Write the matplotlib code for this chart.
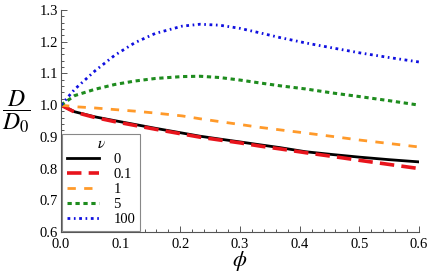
import numpy as np
import matplotlib.pyplot as plt
from matplotlib.ticker import MultipleLocator

plt.rcParams['font.family'] = 'Liberation Serif'
plt.rcParams['mathtext.fontset'] = 'stix'

# volume fraction
phi = [0.0, 0.023, 0.057, 0.09, 0.124, 0.158, 0.203, 0.233, 0.266, 0.3,
       0.333, 0.367, 0.41, 0.456, 0.5, 0.55, 0.6]

# D/D0, one list per nu
d_nu0 = [1.0, 0.979, 0.963, 0.951, 0.939, 0.927, 0.912, 0.902, 0.893, 0.884,
         0.875, 0.866, 0.853, 0.844, 0.836, 0.828, 0.821]
d_nu01 = [1.0, 0.978, 0.961, 0.948, 0.936, 0.924, 0.909, 0.899, 0.890, 0.881,
          0.871, 0.862, 0.850, 0.838, 0.826, 0.813, 0.800]
d_nu1 = [1.0, 0.995, 0.991, 0.986, 0.981, 0.975, 0.966, 0.957, 0.948, 0.939,
         0.930, 0.922, 0.912, 0.901, 0.890, 0.879, 0.868]
d_nu5 = [1.0, 1.030, 1.050, 1.065, 1.076, 1.084, 1.090, 1.091, 1.087, 1.079,
         1.070, 1.061, 1.051, 1.038, 1.027, 1.014, 1.0]
d_nu100 = [1.0, 1.050, 1.108, 1.157, 1.197, 1.226, 1.249, 1.255, 1.252, 1.242,
           1.228, 1.213, 1.196, 1.180, 1.165, 1.150, 1.136]

labels = ['0', '0.1', '1', '5', '100']

fig = plt.figure(figsize=(4.45, 2.77), dpi=100)
ax = fig.add_axes([0.137, 0.1625, 0.8046, 0.8015])

ax.plot(phi, d_nu0, color='black', lw=2.0, label=labels[0])
ax.plot(phi, d_nu01, color='#e8141c', lw=2.6, dashes=(4, 2), label=labels[1])
ax.plot(phi, d_nu1, color='#ff9a2a', lw=2.0, dashes=(3, 3), label=labels[2])
ax.plot(phi, d_nu5, color='#1e8c1e', lw=2.2, dashes=(1.4, 1.2), label=labels[3])
ax.plot(phi, d_nu100, color='#1010e0', lw=2.0, dashes=(1.0, 1.3, 0.6, 1.3),
        label=labels[4])

ax.set_xlim(0, 0.6)
ax.set_ylim(0.6, 1.3)
ax.xaxis.set_major_locator(MultipleLocator(0.1))
ax.xaxis.set_minor_locator(MultipleLocator(0.02))
ax.yaxis.set_major_locator(MultipleLocator(0.1))
ax.yaxis.set_minor_locator(MultipleLocator(0.02))
ax.xaxis.set_major_formatter(plt.FuncFormatter(lambda v, p: f'{v:.1f}'))
ax.yaxis.set_major_formatter(plt.FuncFormatter(lambda v, p: f'{v:.1f}'))

ax.tick_params(which='both', direction='in', color='#555555', labelsize=10.5,
               width=0.7)
ax.tick_params(which='major', length=4)
ax.tick_params(which='minor', length=2)
ax.tick_params(axis='x', pad=4)
ax.tick_params(axis='y', pad=2)
for s in ['top', 'right']:
    ax.spines[s].set_visible(False)
for s in ['left', 'bottom']:
    ax.spines[s].set_color('#555555')
    ax.spines[s].set_linewidth(0.8)

ax.set_xlabel(r'$\phi$', fontsize=16, labelpad=-1)
ax.set_ylabel(r'$\dfrac{D}{D_0}$', fontsize=17, rotation=0, labelpad=14,
              va='center')
ax.yaxis.set_label_coords(-0.125, 0.54)

leg = ax.legend(title=r'$\nu$', loc='lower left', bbox_to_anchor=(0.0, 0.0),
                borderaxespad=0.1, fontsize=10.5, title_fontsize=11,
                fancybox=False, edgecolor='#888888', framealpha=1,
                handlelength=2.2, handletextpad=1.0, labelspacing=0.12,
                borderpad=0.3)
leg.get_frame().set_linewidth(0.8)

fig.savefig('out.png', dpi=100)
